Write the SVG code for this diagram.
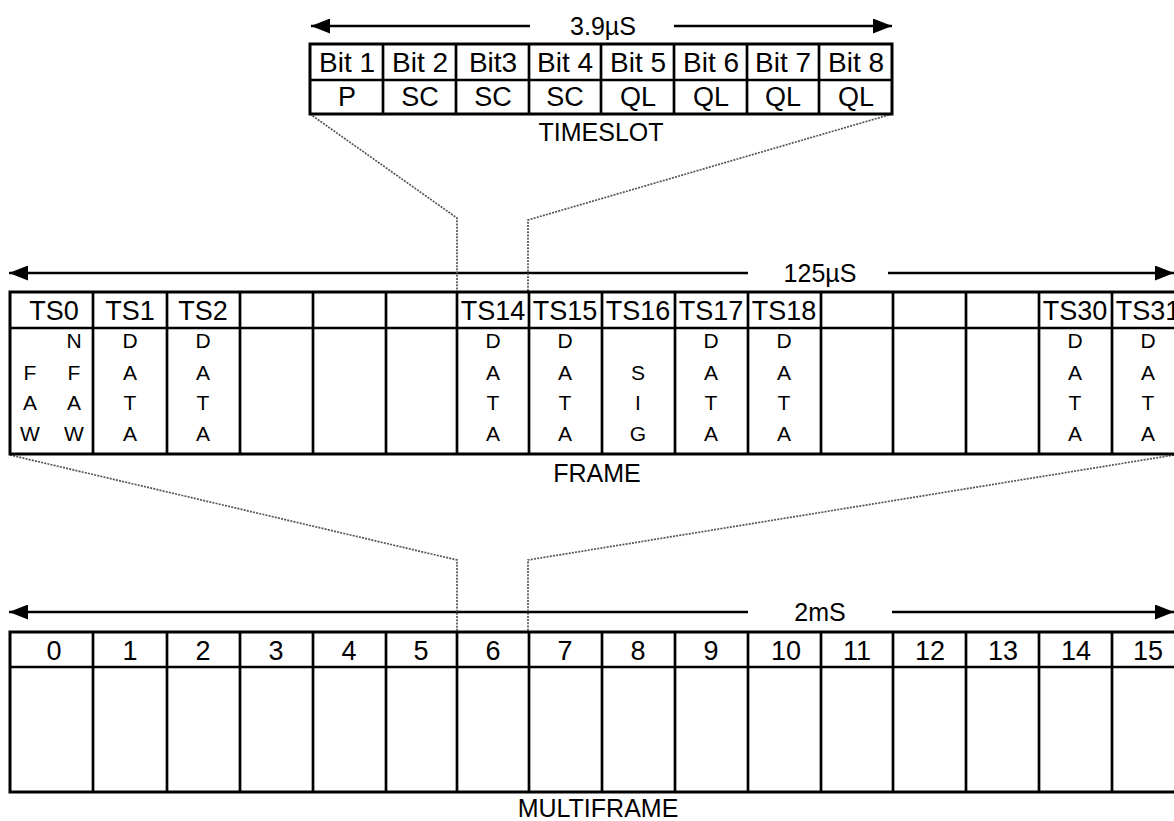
<svg xmlns="http://www.w3.org/2000/svg" width="1174" height="821" viewBox="0 0 1174 821">
<defs>
<marker id="ah" viewBox="0 0 10 10" refX="10" refY="5" markerWidth="19" markerHeight="15" markerUnits="userSpaceOnUse" orient="auto-start-reverse" preserveAspectRatio="none">
<path d="M0,0 L10,5 L0,10 Z" fill="#000"/>
</marker>
<style>
.t{font-family:"Liberation Sans",Arial,sans-serif;fill:#000;text-anchor:middle}
.h{font-size:27px}
.bt{font-size:28px}
.b{font-size:21px}
.l{font-size:25px}
.box{fill:#fff;stroke:#000;stroke-width:3}
.dv{stroke:#000;stroke-width:2.7}
.dim{stroke:#000;stroke-width:2.5;fill:none}
.con{stroke:#555;stroke-width:1.7;stroke-dasharray:2 1.2;fill:none}
</style>
</defs>
<rect width="1174" height="821" fill="#fff"/>

<g id="dimensions">
<line class="dim" x1="530" y1="26" x2="311" y2="26" marker-end="url(#ah)"/>
<line class="dim" x1="674" y1="26" x2="892" y2="26" marker-end="url(#ah)"/>
<text class="t l" x="603" y="35">3.9µS</text>
<line class="dim" x1="748" y1="273" x2="9" y2="273" marker-end="url(#ah)"/>
<line class="dim" x1="888" y1="273" x2="1174" y2="273" marker-end="url(#ah)"/>
<text class="t l" x="820" y="282">125µS</text>
<line class="dim" x1="748" y1="612" x2="9" y2="612" marker-end="url(#ah)"/>
<line class="dim" x1="892" y1="612" x2="1174" y2="612" marker-end="url(#ah)"/>
<text class="t l" x="820" y="621">2mS</text>
</g>

<g id="connectors">
<polyline class="con" points="310,114 457,218 457,292"/>
<polyline class="con" points="892,114 528,220 528,292"/>
<polyline class="con" points="10,455 457,560 457,632"/>
<polyline class="con" points="1174,455 528,560 528,632"/>
</g>

<g id="timeslot">
<rect class="box" x="310" y="44" width="582" height="70"/>
<line class="dv" x1="310" y1="80" x2="892" y2="80"/>
<line class="dv" x1="383" y1="44" x2="383" y2="114"/>
<line class="dv" x1="456" y1="44" x2="456" y2="114"/>
<line class="dv" x1="529" y1="44" x2="529" y2="114"/>
<line class="dv" x1="601" y1="44" x2="601" y2="114"/>
<line class="dv" x1="674" y1="44" x2="674" y2="114"/>
<line class="dv" x1="747" y1="44" x2="747" y2="114"/>
<line class="dv" x1="819" y1="44" x2="819" y2="114"/>
<g class="t bt">
<text x="347" y="72">Bit 1</text>
<text x="420" y="72">Bit 2</text>
<text x="493" y="72">Bit3</text>
<text x="565" y="72">Bit 4</text>
<text x="638" y="72">Bit 5</text>
<text x="711" y="72">Bit 6</text>
<text x="783" y="72">Bit 7</text>
<text x="856" y="72">Bit 8</text>
</g>
<g class="t h">
<text x="347" y="106">P</text>
<text x="420" y="106">SC</text>
<text x="493" y="106">SC</text>
<text x="565" y="106">SC</text>
<text x="638" y="106">QL</text>
<text x="711" y="106">QL</text>
<text x="783" y="106">QL</text>
<text x="856" y="106">QL</text>
</g>
<text class="t l" x="601" y="141">TIMESLOT</text>
</g>

<g id="frame">
<rect class="box" x="10" y="292" width="1180" height="162"/>
<line class="dv" x1="10" y1="328" x2="1190" y2="328"/>
<g class="dv">
<line x1="93" y1="292" x2="93" y2="454"/>
<line x1="167" y1="292" x2="167" y2="454"/>
<line x1="240" y1="292" x2="240" y2="454"/>
<line x1="313" y1="292" x2="313" y2="454"/>
<line x1="386" y1="292" x2="386" y2="454"/>
<line x1="457" y1="292" x2="457" y2="454"/>
<line x1="529" y1="292" x2="529" y2="454"/>
<line x1="602" y1="292" x2="602" y2="454"/>
<line x1="675" y1="292" x2="675" y2="454"/>
<line x1="748" y1="292" x2="748" y2="454"/>
<line x1="821" y1="292" x2="821" y2="454"/>
<line x1="893" y1="292" x2="893" y2="454"/>
<line x1="966" y1="292" x2="966" y2="454"/>
<line x1="1039" y1="292" x2="1039" y2="454"/>
<line x1="1112" y1="292" x2="1112" y2="454"/>
</g>
<g class="t h">
<text x="54" y="320">TS0</text>
<text x="130" y="320">TS1</text>
<text x="203" y="320">TS2</text>
<text x="493" y="320">TS14</text>
<text x="565" y="320">TS15</text>
<text x="638" y="320">TS16</text>
<text x="711" y="320">TS17</text>
<text x="784" y="320">TS18</text>
<text x="1075" y="320">TS30</text>
<text x="1148" y="320">TS31</text>
</g>
<g class="t b">
<text x="74" y="348">N</text>
<text x="30" y="380">F</text><text x="74" y="380">F</text>
<text x="30" y="410">A</text><text x="74" y="410">A</text>
<text x="30" y="441">W</text><text x="74" y="441">W</text>

<text x="130" y="348">D</text><text x="130" y="380">A</text><text x="130" y="410">T</text><text x="130" y="441">A</text>
<text x="203" y="348">D</text><text x="203" y="380">A</text><text x="203" y="410">T</text><text x="203" y="441">A</text>
<text x="493" y="348">D</text><text x="493" y="380">A</text><text x="493" y="410">T</text><text x="493" y="441">A</text>
<text x="565" y="348">D</text><text x="565" y="380">A</text><text x="565" y="410">T</text><text x="565" y="441">A</text>
<text x="638" y="380">S</text><text x="638" y="410">I</text><text x="638" y="441">G</text>
<text x="711" y="348">D</text><text x="711" y="380">A</text><text x="711" y="410">T</text><text x="711" y="441">A</text>
<text x="784" y="348">D</text><text x="784" y="380">A</text><text x="784" y="410">T</text><text x="784" y="441">A</text>
<text x="1075" y="348">D</text><text x="1075" y="380">A</text><text x="1075" y="410">T</text><text x="1075" y="441">A</text>
<text x="1148" y="348">D</text><text x="1148" y="380">A</text><text x="1148" y="410">T</text><text x="1148" y="441">A</text>
</g>
<text class="t l" x="597" y="482">FRAME</text>
</g>

<g id="multiframe">
<rect class="box" x="10" y="632" width="1180" height="160"/>
<line class="dv" x1="10" y1="667" x2="1190" y2="667"/>
<g class="dv">
<line x1="93" y1="632" x2="93" y2="792"/>
<line x1="167" y1="632" x2="167" y2="792"/>
<line x1="240" y1="632" x2="240" y2="792"/>
<line x1="313" y1="632" x2="313" y2="792"/>
<line x1="386" y1="632" x2="386" y2="792"/>
<line x1="457" y1="632" x2="457" y2="792"/>
<line x1="529" y1="632" x2="529" y2="792"/>
<line x1="602" y1="632" x2="602" y2="792"/>
<line x1="675" y1="632" x2="675" y2="792"/>
<line x1="748" y1="632" x2="748" y2="792"/>
<line x1="821" y1="632" x2="821" y2="792"/>
<line x1="893" y1="632" x2="893" y2="792"/>
<line x1="966" y1="632" x2="966" y2="792"/>
<line x1="1039" y1="632" x2="1039" y2="792"/>
<line x1="1112" y1="632" x2="1112" y2="792"/>
</g>
<g class="t h">
<text x="54" y="660">0</text>
<text x="130" y="660">1</text>
<text x="203" y="660">2</text>
<text x="276" y="660">3</text>
<text x="349" y="660">4</text>
<text x="421" y="660">5</text>
<text x="493" y="660">6</text>
<text x="565" y="660">7</text>
<text x="638" y="660">8</text>
<text x="711" y="660">9</text>
<text x="786" y="660">10</text>
<text x="857" y="660">11</text>
<text x="930" y="660">12</text>
<text x="1003" y="660">13</text>
<text x="1076" y="660">14</text>
<text x="1148" y="660">15</text>
</g>
<text class="t l" x="598" y="817">MULTIFRAME</text>
</g>
</svg>
